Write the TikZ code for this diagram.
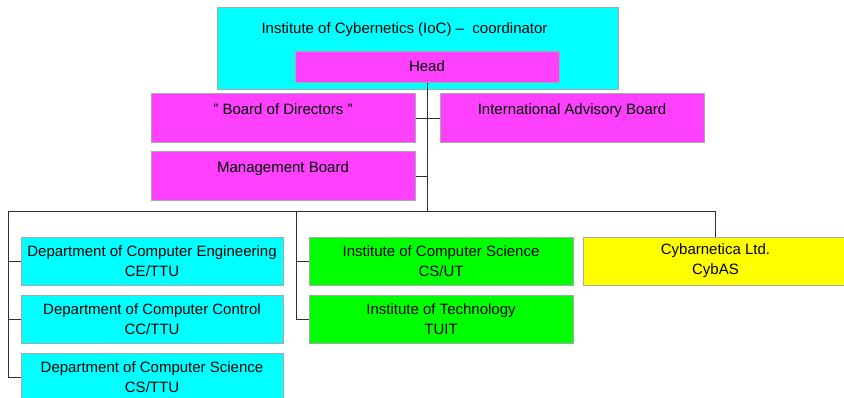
\documentclass[tikz,border=0pt]{standalone}
\usepackage{fontspec}
\setmainfont{Liberation Sans}
\usepackage{xcolor}
\definecolor{boxGrey}{HTML}{A8A8A8}
\definecolor{lineGrey}{HTML}{303030}
\definecolor{cyanFill}{HTML}{00FFFF}
\definecolor{magentaFill}{HTML}{FF40FF}
\definecolor{greenFill}{HTML}{00FF00}
\definecolor{yellowFill}{HTML}{FFFF00}
\usepackage{tikz}
\usetikzlibrary{positioning}
\tikzset{box/.style = {draw = boxGrey, line width = 1pt, inner sep = 0pt, minimum width = 264pt, minimum height = 48pt, align = center, font = \fontsize{15}{20}\selectfont}}
\tikzset{toptext/.style = {text height = 21pt, text depth = 28pt}}
\tikzset{link/.style = {draw = lineGrey, line width = 1pt}}

\begin{document}
\begin{tikzpicture}[x = 1pt, y = -1pt]
	\useasboundingbox (0, 0) rectangle (844, 397);

	%% Coordinator
	\node[box, fill = cyanFill, minimum width = 401pt, text height = 26pt, text depth = 56pt] (ioc) at (417.5, 48) {\hspace*{-26pt}Institute of Cybernetics (IoC) –\ \ coordinator};
	\node[box, fill = magentaFill, minimum height = 31pt] (head) at (427, 66.5) {Head};

	%% Boards
	\node[box, toptext, fill = magentaFill] (bod) at (283, 118) {" Board of Directors "};
	\node[box, toptext, fill = magentaFill, right = 24pt of bod] (iab) {International Advisory Board};
	\node[box, toptext, fill = magentaFill, below = 8pt of bod] (mb) {Management Board};

	%% Departments
	\node[box, fill = cyanFill, minimum width = 262pt] (ce) at (152, 261) {Department of Computer Engineering\\CE/TTU};
	\node[box, fill = cyanFill, minimum width = 262pt, below = 9pt of ce] (cc) {Department of Computer Control\\CC/TTU};
	\node[box, fill = cyanFill, minimum width = 262pt, below = 9pt of cc] (cs) {Department of Computer Science\\CS/TTU};

	\node[box, fill = greenFill, right = 25pt of ce] (ut) {Institute of Computer Science\\CS/UT};
	\node[box, fill = greenFill, below = 9pt of ut] (tuit) {Institute of Technology\\TUIT};

	\node[box, fill = yellowFill, minimum width = 300pt, anchor = west] (cyb) at (583, 261) {\hspace*{-36pt}Cybarnetica Ltd.\\\hspace*{-36pt}CybAS};

	%% Connectors
	\coordinate (bus) at (427, 211);
	\coordinate (busL) at (8, 211);
	\coordinate (busM) at (296, 211);
	\coordinate (busR) at (715, 211);

	\draw[link] (head.south) -- (bus);
	\draw[link] (bod.east) -- (iab.west);
	\draw[link] (mb.east) -- (mb.east -| bus);
	\draw[link] (cs.west) -| (busL) -- (busR) -- (busR |- cyb.north);
	\draw[link] (ce.west) -- (ce.west -| busL);
	\draw[link] (cc.west) -- (cc.west -| busL);
	\draw[link] (busM) |- (tuit.west);
	\draw[link] (ut.west) -- (ut.west -| busM);

\end{tikzpicture}
\end{document}
